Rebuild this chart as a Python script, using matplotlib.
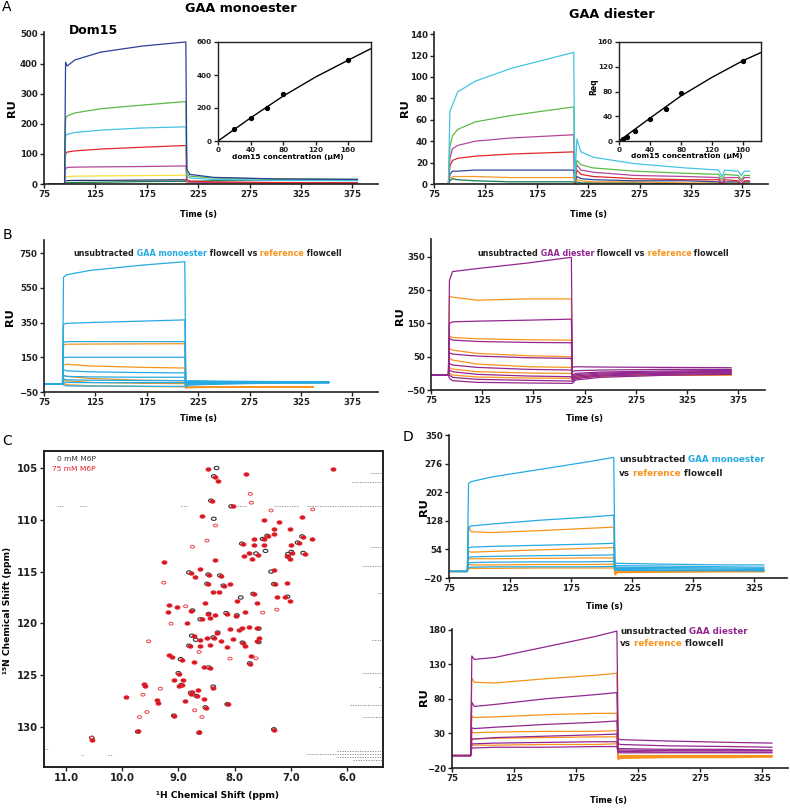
import matplotlib
matplotlib.use('Agg')
import matplotlib.pyplot as plt
import numpy as np

W, H = 790, 808

# ---------------- panel A (left): Dom15 on GAA monoester ----------------
tA1 = [80, 95, 96, 97.5, 105, 130, 170, 213, 214, 217, 240, 300, 380]
a1_blue = [0, 0, 405, 392, 412, 438, 458, 472, 48, 32, 22, 17, 15]
a1_green = [0, 0, 215, 226, 236, 250, 262, 274, 35, 26, 20, 17, 16]
a1_cyan = [0, 0, 158, 165, 171, 179, 186, 190, 26, 20, 15, 12, 11]
a1_red = [0, 0, 100, 106, 110, 116, 122, 128, 14, 10, 7, 5, 4]
a1_magenta = [0, 0, 50, 55, 56, 57, 58, 60, 8, 6, 5, 4, 3]
a1_yellow = [0, 0, 22, 25, 26, 27, 28, 29, 5, 4, 3, 3, 2]
a1_navy = [0, 0, 10, 11, 12, 12, 13, 14, 3, 3, 3, 2, 2]
a1_dkgreen = [0, 0, 3, 4, 5, 6, 8, 9, 5, 8, 11, 13, 14]

mono_conc = [20, 40, 60, 80, 160]
mono_req = [70, 138, 200, 285, 490]
mono_fit_x = [0, 40, 80, 120, 160, 190]
mono_fit_y = [0, 140, 272, 388, 490, 565]

# ---------------- panel A (right): Dom15 on GAA diester ----------------
tA2 = [80, 89, 90.5, 93, 98, 115, 150, 211, 212, 214, 218, 230, 270, 320,
       352, 355, 358, 371, 374, 377, 382]
a2_cyan = [0, 0, 68, 74, 86, 96, 108, 123, 3, 42, 30, 25, 19, 15, 13, 7, 13, 12, 8, 12, 12]
a2_green = [0, 0, 35, 45, 51, 58, 64, 72, 2, 22, 18, 15, 12, 10, 9, 4, 9, 8, 4, 8, 8]
a2_magenta = [0, 0, 24, 33, 36, 40, 43, 46, 2, 18, 13, 11, 8, 7, 6, 1, 6, 6, 2, 6, 6]
a2_red = [0, 0, 17, 22, 24, 26, 28, 30, 1, 13, 9, 7, 5, 4, 4, -1, 4, 3, -1, 3, 3]
a2_blue = [0, 0, 9, 12, 12, 13, 13, 13, 1, 7, 5, 4, 3, 3, 2, 0, 2, 2, 0, 2, 2]
a2_orange = [0, 0, 5, 7, 7, 7, 6, 6, 0, 4, 3, 2, 2, 1, 1, 0, 1, 1, 0, 1, 1]
a2_dkgreen = [0, 0, 3, 5, 4, 3, 2, 2, 0, 2, 1, 1, 1, 0, 0, -1, 0, 0, -1, 0, 0]

di_conc = [5, 10, 20, 40, 60, 80, 160]
di_req = [3, 7, 16, 35, 51, 77, 129]
di_fit_x = [0, 40, 80, 120, 160, 183]
di_fit_y = [0, 37, 73, 103, 130, 143]

# ---------------- panel B (left): monoester flowcell vs reference ----------------
tB1_mono = [75, 93, 94, 97, 120, 170, 212, 213, 216, 250, 300, 352]
b1_mono = [
    [-5, -5, 610, 625, 650, 680, 700, 10, 15, 12, 10, 8],
    [-5, -5, 340, 345, 350, 358, 365, 5, 12, 10, 9, 8],
    [-5, -5, 235, 240, 240, 240, 240, 0, 8, 8, 8, 8],
    [-5, -5, 148, 150, 150, 150, 150, -5, 5, 6, 7, 7],
    [-5, -5, 78, 72, 66, 62, 60, -10, 0, 3, 5, 6],
    [-5, -5, 45, 40, 37, 35, 35, -12, -3, 1, 4, 5],
    [-5, -5, 25, 20, 18, 16, 15, -15, -5, 0, 3, 4],
    [-5, -5, 8, 5, 4, 4, 4, -18, -8, -2, 2, 3],
    [-5, -5, -10, -15, -16, -17, -18, -20, -10, -4, 1, 2],
]
tB1_ref = [75, 93, 94, 97, 120, 170, 212, 213, 216, 250, 300, 337]
b1_ref = [
    [-5, -5, 220, 225, 226, 227, 228, -25, -22, -20, -20, -20],
    [-5, -5, 105, 110, 100, 92, 88, -25, -22, -21, -20, -20],
    [-5, -5, 45, 40, 28, 18, 15, -25, -23, -21, -20, -20],
    [-5, -5, 20, 15, 5, 0, -2, -25, -24, -22, -21, -21],
    [-5, -5, 0, -8, -14, -18, -20, -26, -25, -23, -22, -22],
]

# ---------------- panel B (right): diester flowcell vs reference ----------------
tB2 = [75, 92, 93, 96, 120, 170, 212, 213, 216, 240, 300, 368]
b2_di = [
    [-5, -5, 280, 306, 315, 332, 349, 18, 20, 19, 18, 17],
    [-5, -5, 150, 155, 157, 160, 163, 5, 8, 10, 12, 12],
    [-5, -5, 105, 100, 96, 93, 92, -5, 0, 4, 7, 9],
    [-5, -5, 62, 58, 52, 47, 45, -10, -4, 1, 4, 6],
    [-5, -5, 30, 25, 18, 12, 10, -15, -8, -2, 2, 4],
    [-5, -5, 10, 5, -3, -8, -10, -20, -12, -5, 0, 2],
    [-5, -5, -5, -12, -18, -21, -23, -25, -16, -8, -3, 0],
    [-5, -5, -15, -22, -27, -29, -30, -30, -20, -12, -6, -3],
]
b2_ref = [
    [-5, -5, 232, 229, 220, 224, 224, -10, -8, -6, -4, -3],
    [-5, -5, 112, 108, 104, 101, 100, -12, -9, -6, -4, -3],
    [-5, -5, 75, 70, 60, 53, 50, -14, -10, -7, -5, -4],
    [-5, -5, 45, 40, 28, 20, 18, -16, -11, -7, -5, -4],
    [-5, -5, 17, 13, 5, 1, 0, -18, -12, -8, -5, -4],
    [-5, -5, 0, -5, -11, -14, -15, -20, -13, -8, -6, -5],
]

# ---------------- panel D (top): monoester vs reference ----------------
tD1 = [75, 90, 91, 93, 110, 150, 190, 210, 211, 213, 250, 300, 333]
d1_mono = [
    [-3, -3, 225, 230, 242, 262, 282, 293, 18, 18, 16, 14, 14],
    [-3, -3, 110, 115, 120, 130, 138, 143, 12, 12, 11, 9, 8],
    [-3, -3, 58, 60, 62, 65, 68, 70, 8, 8, 7, 6, 5],
    [-3, -3, 33, 35, 36, 38, 39, 40, 5, 5, 4, 3, 2],
    [-3, -3, 18, 20, 21, 22, 22, 23, 2, 2, 1, 1, 0],
    [-3, -3, 7, 8, 9, 9, 9, 10, 0, 0, -1, -1, -2],
]
d1_ref = [
    [-3, -3, 113, 100, 98, 103, 109, 112, -12, -6, -5, -4, -4],
    [-3, -3, 50, 47, 49, 53, 57, 59, -10, -5, -4, -3, -3],
    [-3, -3, 30, 30, 30, 31, 32, 32, -8, -3, -3, -2, -2],
    [-3, -3, 15, 14, 14, 15, 15, 16, -6, -2, -2, -2, -1],
    [-3, -3, 5, 5, 5, 6, 6, 6, -5, -1, -1, -1, -1],
]

# ---------------- panel D (bottom): diester vs reference ----------------
tD2 = [75, 90, 91, 93, 110, 150, 190, 208, 209, 211, 250, 300, 333]
d2_di = [
    [-2, -2, 142, 137, 140, 155, 170, 178, 22, 21, 19, 17, 16],
    [-2, -2, 75, 69, 72, 80, 86, 89, 15, 14, 12, 11, 10],
    [-2, -2, 38, 37, 39, 43, 46, 48, 8, 8, 7, 7, 6],
    [-2, -2, 22, 22, 24, 26, 28, 29, 6, 6, 5, 5, 5],
    [-2, -2, 15, 15, 16, 17, 18, 18, 4, 4, 3, 3, 3],
    [-2, -2, 9, 9, 10, 10, 11, 11, 2, 2, 2, 2, 2],
]
d2_ref = [
    [-2, -2, 110, 104, 103, 109, 114, 117, -8, -6, -5, -5, -4],
    [-2, -2, 55, 53, 54, 57, 59, 59, -6, -5, -4, -4, -4],
    [-2, -2, 32, 31, 32, 33, 33, 34, -5, -4, -4, -3, -3],
    [-2, -2, 22, 22, 23, 24, 25, 25, -4, -3, -3, -3, -3],
    [-2, -2, 13, 13, 13, 14, 14, 15, -3, -2, -2, -2, -2],
]

# ---------------- panel C: HSQC peaks (1H ppm, 15N ppm) ----------------
peaks_75mM = [
    (8.47, 105.1), (7.79, 105.55), (8.34, 105.87), (8.30, 106.3), (6.25, 105.1),
    (8.40, 108.2), (8.03, 108.7), (8.58, 109.67), (7.48, 110.0), (7.21, 110.18),
    (6.80, 109.7), (7.30, 110.86), (7.02, 110.92), (7.66, 111.85), (7.48, 111.9),
    (7.30, 111.34), (7.40, 111.6), (6.78, 111.66), (6.62, 111.82), (6.86, 112.24),
    (7.85, 112.37), (7.66, 112.46), (7.48, 112.46), (6.99, 112.46), (7.75, 113.2),
    (7.58, 113.43), (7.83, 113.46), (7.69, 113.75), (7.07, 113.49), (6.97, 113.2),
    (6.75, 113.27), (7.02, 113.78), (8.34, 113.9), (9.26, 114.07), (7.29, 114.88),
    (8.61, 114.78), (8.78, 115.14), (8.71, 115.52), (8.46, 115.33), (8.25, 115.42),
    (8.47, 116.23), (8.18, 116.39), (8.08, 116.23), (7.28, 116.23), (7.07, 116.07),
    (8.39, 116.97), (8.28, 116.97), (7.65, 117.2), (7.25, 117.45), (7.10, 117.45),
    (7.01, 117.87), (7.95, 117.87), (8.52, 118.0), (7.60, 118.03), (9.17, 118.2),
    (9.02, 118.42), (8.77, 118.8), (9.19, 118.93), (8.47, 119.12), (8.34, 119.22),
    (8.14, 119.06), (7.97, 119.28), (7.81, 118.9), (8.58, 119.54), (8.43, 119.45),
    (8.85, 119.93), (8.31, 120.93), (8.09, 120.57), (7.93, 120.67), (7.87, 120.41),
    (7.75, 120.35), (7.60, 120.44), (8.73, 121.22), (8.61, 121.63), (8.49, 121.41),
    (8.37, 121.41), (8.24, 121.7), (8.02, 121.47), (7.85, 121.89), (7.57, 121.41),
    (7.60, 121.73), (8.80, 122.21), (8.61, 122.15), (8.44, 122.09), (8.14, 122.28),
    (7.82, 122.18), (9.16, 123.08), (9.12, 123.24), (8.94, 123.5), (8.72, 123.73),
    (7.70, 123.18), (7.72, 123.89), (8.54, 124.2), (8.44, 124.3), (8.99, 124.85),
    (9.08, 125.5), (8.91, 125.5), (8.94, 125.98), (8.99, 126.07), (9.62, 125.82),
    (9.60, 126.07), (8.38, 126.2), (8.76, 126.62), (8.65, 126.46), (8.77, 126.78),
    (8.67, 127.04), (8.54, 127.27), (9.94, 127.14), (9.38, 127.36), (9.36, 127.65),
    (8.89, 127.49), (8.12, 127.75), (8.51, 128.13), (9.08, 128.94), (8.64, 130.48),
    (9.71, 130.38), (7.29, 130.26), (10.54, 131.22),
]
peaks_75mM_weak = [
    (7.72, 107.5), (7.70, 108.35), (7.35, 109.1), (6.61, 109.0), (8.34, 110.55),
    (8.75, 112.6), (9.26, 116.07), (8.87, 118.35), (9.13, 120.03), (7.50, 118.96),
    (7.25, 118.67), (9.53, 121.73), (8.63, 122.76), (7.62, 123.37), (8.08, 123.4),
    (9.32, 126.3), (9.63, 126.88), (8.71, 128.39), (9.56, 128.55), (9.69, 129.04),
    (8.58, 129.04), (10.54, 131.02), (8.49, 112.0),
]
peaks_0mM = [
    (8.32, 105.0), (8.37, 105.8), (8.42, 108.15), (8.06, 108.7), (8.37, 109.9),
    (7.50, 111.85), (7.42, 111.55), (6.80, 111.6), (6.88, 112.2), (7.87, 112.3),
    (7.05, 113.3), (6.99, 113.1), (6.78, 113.2), (7.62, 113.25), (7.35, 115.0),
    (8.81, 115.08), (8.47, 115.28), (8.26, 115.37), (8.20, 116.35), (8.49, 116.18),
    (7.30, 116.2), (7.06, 117.42), (7.67, 117.15), (7.89, 117.5), (8.75, 118.75),
    (8.46, 119.08), (8.61, 119.6), (8.15, 119.0), (7.96, 119.22), (8.30, 120.88),
    (7.57, 120.5), (8.76, 121.18), (8.69, 121.58), (8.38, 121.35), (7.86, 121.85),
    (7.57, 121.8), (8.81, 122.15), (8.96, 123.45), (7.73, 123.85), (8.46, 124.25),
    (9.00, 124.8), (8.95, 125.95), (8.38, 126.1), (8.78, 126.7), (8.68, 127.0),
    (8.52, 128.1), (9.08, 128.9), (8.63, 130.55), (9.72, 130.45), (10.54, 131.05),
    (8.13, 127.8), (7.30, 130.22), (7.05, 113.55), (7.45, 113.0),
]
# t1-noise streaks in the 0 mM spectrum: start ppm, end ppm, 15N ppm
streak_h0 = [5.92, 5.59, 6.72, 7.30, 5.59, 5.74, 5.47, 5.56, 5.74, 5.44, 5.95, 5.71,
             6.72, 6.18, 6.18, 5.90, 11.15, 10.75, 8.95, 10.73, 10.25, 11.39, 7.95]
streak_h1 = [5.36, 5.36, 5.36, 6.85, 5.36, 5.36, 5.36, 5.36, 5.36, 5.36, 5.36, 5.36,
             5.36, 5.36, 5.36, 5.36, 11.05, 10.65, 8.85, 10.67, 10.18, 11.30, 7.80]
streak_n = [106.4, 105.5, 108.7, 108.7, 112.6, 114.5, 117.1, 121.6, 124.8, 126.1, 127.9, 129.0,
            132.6, 132.3, 132.9, 133.2, 108.7, 108.7, 108.7, 132.7, 132.7, 132.1, 108.7]

sgr_ticks = [75, 125, 175, 225, 275, 325, 375]
sgr_ticks_d = [75, 125, 175, 225, 275, 325]

# ------------------------------------------------------------------
plt.rcParams['font.family'] = ['DejaVu Sans']
plt.rcParams['font.weight'] = 'bold'

BLUE = '#27aae1'
ORANGE = '#f7941d'
PURPLE = '#93278f'
INK = '#231f20'

# flat ellipse marker for the HSQC cross peaks
_a = np.linspace(0, 2 * np.pi, 25)
ELLIPSE = np.column_stack([np.cos(_a), 0.68 * np.sin(_a)])

fig = plt.figure(figsize=(7.9, 8.08), dpi=100)


def box(l, t, r, b):
    return [l / W, 1 - b / H, (r - l) / W, (b - t) / H]


def ftext(x, y, s, **kw):
    return fig.text(x / W, 1 - y / H, s, **kw)


def style(ax, xlim, ylim, xticks, yticks, full=False, size=6.2, lw=1.2):
    ax.set_xlim(*xlim)
    ax.set_ylim(*ylim)
    ax.set_xticks(xticks)
    ax.set_yticks(yticks)
    ax.spines['top'].set_visible(full)
    ax.spines['right'].set_visible(full)
    for s in ax.spines.values():
        s.set_linewidth(lw)
        s.set_color(INK)
    ax.tick_params(direction='out', length=3, width=1.0, labelsize=size, pad=1.5,
                   colors=INK)
    ax.patch.set_alpha(0)


def rainbow(x, y, parts, size):
    t = ftext(x, y, parts[0][0], color=parts[0][1], fontsize=size, va='bottom', ha='left')
    for s, c in parts[1:]:
        t = fig.add_artist(matplotlib.text.Annotation(
            s, xy=(1, 0), xycoords=t, color=c, fontsize=size, va='bottom', ha='left',
            fontweight='bold'))
    return t


# ---- A left
ax = fig.add_axes(box(44, 32, 378, 184))
a1_series = [a1_dkgreen, a1_navy, a1_yellow, a1_magenta, a1_red, a1_cyan, a1_green, a1_blue]
a1_colors = ['#16804c', '#28306e', '#f4e23a', '#b2479e', '#e3262a', '#45c3e0', '#5cb848', '#2c3f98']
for v, c in zip(a1_series, a1_colors):
    ax.plot(tA1, v, color=c, lw=0.9)
style(ax, (75, 400), (0, 505), sgr_ticks, [0, 100, 200, 300, 400, 500])

ins = fig.add_axes(box(218, 42, 371, 141))
ins.plot(mono_fit_x, mono_fit_y, color='black', lw=1.0)
ins.plot(mono_conc, mono_req, 'o', color='black', ms=2.8)
style(ins, (0, 188), (0, 600), [0, 40, 80, 120, 160], [0, 200, 400, 600], full=True,
      size=5.2, lw=1.0)
ins.patch.set_alpha(1)
ins.patch.set_facecolor('white')
ftext(288, 157, 'dom15 concentration (\u03bcM)', fontsize=5.3, ha='center', va='center')

# ---- A right
ax = fig.add_axes(box(434, 32, 768, 184))
a2_series = [a2_dkgreen, a2_orange, a2_blue, a2_red, a2_magenta, a2_green, a2_cyan]
a2_colors = ['#167a5a', '#f39c2c', '#2e4a9e', '#e3262a', '#b2479e', '#5dba47', '#45c3e0']
for v, c in zip(a2_series, a2_colors):
    ax.plot(tA2, v, color=c, lw=0.9)
style(ax, (75, 400), (0, 142), sgr_ticks, list(range(0, 141, 20)))

ins = fig.add_axes(box(619, 42, 761, 141))
ins.plot(di_fit_x, di_fit_y, color='black', lw=1.0)
ins.plot(di_conc, di_req, 'o', color='black', ms=2.8)
style(ins, (0, 183), (0, 160), [0, 40, 80, 120, 160], [0, 40, 80, 120, 160], full=True,
      size=5.2, lw=1.0)
ins.patch.set_alpha(1)
ins.patch.set_facecolor('white')
ftext(687, 156, 'dom15 concentration (\u03bcM)', fontsize=5.3, ha='center', va='center')
ftext(594, 87, 'Req', fontsize=5.5, ha='center', va='center', rotation=90)

# ---- B left
ax = fig.add_axes(box(44, 240, 378, 392))
for v in b1_ref:
    ax.plot(tB1_ref, v, color=ORANGE, lw=0.9)
for v in b1_mono:
    ax.plot(tB1_mono, v, color=BLUE, lw=0.9)
style(ax, (75, 400), (-50, 825), sgr_ticks, [-50, 150, 350, 550, 750])
rainbow(73, 258.5, [('unsubtracted', INK), (' GAA monoester', BLUE), (' flowcell vs', INK),
                    (' reference', ORANGE), (' flowcell', INK)], 5.8)

# ---- B right
ax = fig.add_axes(box(431, 239, 765, 390))
for v in b2_ref:
    ax.plot(tB2, v, color=ORANGE, lw=0.9)
for v in b2_di:
    ax.plot(tB2, v, color=PURPLE, lw=0.9)
style(ax, (75, 401), (-50, 404), sgr_ticks, [-50, 50, 150, 250, 350])
rainbow(477, 258.5, [('unsubtracted', INK), (' GAA diester', PURPLE), (' flowcell vs', INK),
                     (' reference', ORANGE), (' flowcell', INK)], 5.8)

# ---- C
ax = fig.add_axes(box(44, 451, 383, 767))
ax.hlines(streak_n, streak_h0, streak_h1, colors='#555555', lw=0.45, linestyles=(0, (2, 2)))
ax.scatter([p[0] for p in peaks_0mM], [p[1] for p in peaks_0mM], s=12, marker=ELLIPSE,
           facecolors='none', edgecolors='#333333', linewidths=0.8, zorder=2)
ax.scatter([p[0] for p in peaks_75mM_weak], [p[1] for p in peaks_75mM_weak], s=9,
           marker=ELLIPSE, facecolors='none', edgecolors='#e8434a', linewidths=0.7, zorder=3)
ax.scatter([p[0] for p in peaks_75mM], [p[1] for p in peaks_75mM], s=12, marker=ELLIPSE,
           facecolors='#c8141e', edgecolors='#e52630', linewidths=0.8, zorder=3)
style(ax, (11.39, 5.36), (133.86, 103.36), [11, 10, 9, 8, 7, 6], [105, 110, 115, 120, 125, 130],
      full=True, size=7.3, lw=1.4)
ax.set_xticklabels(['11.0', '10.0', '9.0', '8.0', '7.0', '6.0'])
ax.tick_params(right=False, top=False)
ftext(57, 459, '0 mM M6P', fontsize=5.4, fontweight='normal', color='#333333', va='center')
ftext(52, 469, '75 mM M6P', fontsize=5.4, fontweight='normal', color='#e8202a', va='center')
ftext(217, 796, '\u00b9H Chemical Shift (ppm)', fontsize=6.6, ha='center', va='center')
ftext(8, 610, '\u00b9\u2075N Chemical Shift (ppm)', fontsize=6.6, ha='center', va='center',
      rotation=90)

# ---- D top
ax = fig.add_axes(box(449, 435, 787, 578))
for v in d1_ref:
    ax.plot(tD1, v, color=ORANGE, lw=0.9)
for v in d1_mono:
    ax.plot(tD1, v, color=BLUE, lw=0.9)
style(ax, (75, 352), (-20, 351), sgr_ticks_d, [-20, 54, 128, 202, 276, 350])
rainbow(619, 463.5, [('unsubtracted', INK), (' GAA monoester', BLUE)], 6.3)
rainbow(619, 477.5, [('vs', INK), (' reference', ORANGE), (' flowcell', INK)], 6.3)

# ---- D bottom
ax = fig.add_axes(box(452, 629, 788, 768))
for v in d2_ref:
    ax.plot(tD2, v, color=ORANGE, lw=0.9)
for v in d2_di:
    ax.plot(tD2, v, color=PURPLE, lw=0.9)
style(ax, (75, 346), (-20, 181), sgr_ticks_d, [-20, 30, 80, 130, 180])
rainbow(620, 635.5, [('unsubtracted', INK), (' GAA diester', PURPLE)], 6.3)
rainbow(620, 648.5, [('vs', INK), (' reference', ORANGE), (' flowcell', INK)], 6.3)

# ---- labels, titles, panel letters
ftext(241, 9, 'GAA monoester', fontsize=9.2, ha='center', va='center')
ftext(612, 14, 'GAA diester', fontsize=9.2, ha='center', va='center')
ftext(93, 31, 'Dom15', fontsize=9.0, ha='center', va='center')
for x, y in [(12, 108), (405, 108), (10, 317), (400, 316), (424, 507), (424, 697)]:
    ftext(x, y, 'RU', fontsize=8.2, ha='center', va='center', rotation=90)
for x, y in [(198, 215), (588, 215), (198, 419), (585, 418), (605, 607), (608, 800)]:
    ftext(x, y, 'Time (s)', fontsize=5.8, ha='center', va='center')
for x, y, s in [(7, 7, 'A'), (7, 235, 'B'), (7, 441, 'C'), (408, 437, 'D')]:
    ftext(x, y, s, fontsize=10, fontweight='normal', ha='center', va='center')

fig.savefig('out.png', dpi=100)
